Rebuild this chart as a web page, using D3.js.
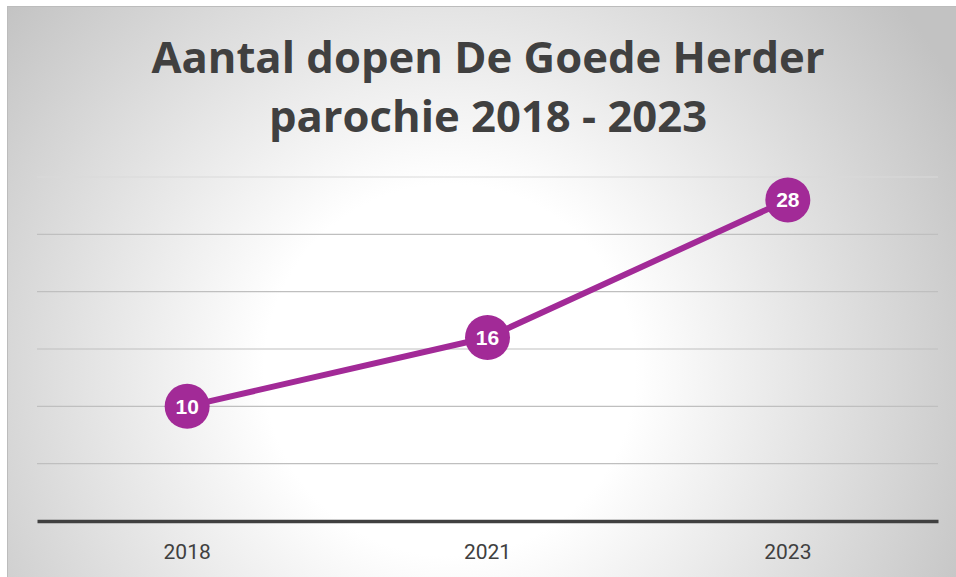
<!DOCTYPE html>
<html><head><meta charset="utf-8">
<script src="https://cdn.jsdelivr.net/npm/d3@7"></script>
<style>html,body{margin:0;padding:0;background:#fff;}svg{display:block;}</style>
</head><body>
<script>
const years = ["2018", "2021", "2023"];
const dopen = [10, 16, 28];
const yTicks = [0, 5, 10, 15, 20, 25, 30];
const titleLines = ["Aantal dopen De Goede Herder", "parochie 2018 - 2023"];

const W = 956, H = 577;
const svg = d3.select("body").append("svg").attr("width", W).attr("height", H);
const defs = svg.append("defs");
const grad = defs.append("radialGradient").attr("id", "bg")
  .attr("gradientUnits", "userSpaceOnUse")
  .attr("cx", 450).attr("cy", 370).attr("r", 580);
grad.append("stop").attr("offset", "0%").attr("stop-color", "#ffffff");
grad.append("stop").attr("offset", "32%").attr("stop-color", "#ffffff");
grad.append("stop").attr("offset", "100%").attr("stop-color", "#c2c2c2");

svg.append("rect").attr("x", 7.5).attr("y", 6.5).attr("width", W - 7).attr("height", H - 6)
  .attr("fill", "url(#bg)").attr("stroke", "#bcbcbc").attr("stroke-width", 1);

const m = {left: 37, right: 938, top: 177, bottom: 521};
const x = d3.scaleBand().domain(years).range([m.left, m.right]);
const y = d3.scaleLinear().domain([0, 30]).range([m.bottom, m.top]);

// gridlines
svg.append("g").selectAll("line").data(yTicks.filter(t => t > 0)).join("line")
  .attr("x1", m.left).attr("x2", m.right)
  .attr("y1", d => y(d)).attr("y2", d => y(d))
  .attr("stroke", d => d === 30 ? "#d9d9d9" : "#bfbfbf").attr("stroke-width", 1.2);

// x axis
const xAxis = svg.append("g").attr("transform", `translate(0,${m.bottom})`)
  .call(d3.axisBottom(x).tickSize(0).tickPadding(23));
xAxis.select(".domain").attr("stroke", "#404040").attr("stroke-width", 3.5);
xAxis.selectAll("text").attr("font-family", "Roboto, 'Open Sans', sans-serif")
  .attr("font-size", 21).attr("fill", "#404040");

// title
svg.append("g").selectAll("text").data(titleLines).join("text")
  .attr("x", 488).attr("y", (d, i) => 73 + i * 59)
  .attr("text-anchor", "middle")
  .attr("font-family", "'Open Sans', Lato, sans-serif").attr("font-weight", 700)
  .attr("font-size", 43.6).attr("fill", "#404040")
  .text(d => d);

const pts = years.map((yr, i) => ({yr, v: dopen[i]}));
const line = d3.line().x(d => x(d.yr) + x.bandwidth() / 2).y(d => y(d.v));
svg.append("path").datum(pts).attr("d", line)
  .attr("fill", "none").attr("stroke", "#a22a97").attr("stroke-width", 6)
  .attr("stroke-linejoin", "round");

const g = svg.append("g").selectAll("g").data(pts).join("g")
  .attr("transform", d => `translate(${x(d.yr) + x.bandwidth() / 2},${y(d.v)})`);
g.append("circle").attr("r", 22.5).attr("fill", "#a22a97");
g.append("text").attr("text-anchor", "middle").attr("dy", "0.36em")
  .attr("font-family", "'Liberation Sans', Arial, sans-serif").attr("font-weight", 700)
  .attr("font-size", 21).attr("fill", "#ffffff").text(d => d.v);
</script>
</body></html>
